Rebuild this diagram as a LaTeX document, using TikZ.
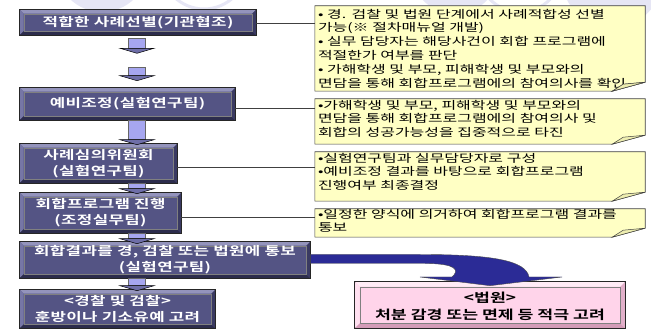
\documentclass[tikz,border=0pt]{standalone}
\usepackage{fontspec}
\newfontfamily\krb{Noto Sans CJK KR Bold}[FakeStretch=1.4,LetterSpace=3]
\newfontfamily\krr{Noto Sans CJK KR}[FakeStretch=1.45]
\newfontfamily\krp{Noto Sans CJK KR Bold}[FakeStretch=1.38]
\usetikzlibrary{calc}
\pgfdeclarelayer{bg}\pgfsetlayers{bg,main}
\definecolor{face}{HTML}{545484}
\definecolor{bvtop}{HTML}{9494BC}
\definecolor{bvleft}{HTML}{7676A6}
\definecolor{bvbot}{HTML}{2C2C4C}
\definecolor{bvright}{HTML}{3A3A62}
\definecolor{callfill}{HTML}{FFFFC4}
\definecolor{foldfill}{HTML}{EEEEB0}
\definecolor{pinkface}{HTML}{FFD4EA}
\definecolor{pinktop}{HTML}{FFECF6}
\definecolor{pinkleft}{HTML}{FFE0F0}
\definecolor{pinkbot}{HTML}{D49CB8}
\definecolor{pinkright}{HTML}{E2B0CA}
\definecolor{bigblue}{HTML}{2B2B96}
\definecolor{shaftc}{HTML}{A6A6F0}
\definecolor{headc}{HTML}{6E6EA8}
\definecolor{wm}{HTML}{E6E6F5}
\tikzset{
  lbox/.style={fill=face, draw=black!85, line width=0.6pt, text=white,
    font=\krb\fontsize{12}{16}\selectfont, align=center, inner sep=0pt},
  pbox/.style={fill=pinkface, draw=black!75, line width=0.6pt, text=black,
    font=\krp\fontsize{12.5}{17}\selectfont, align=center, inner sep=0pt},
  cbox/.style={inner sep=0pt},
  ctext/.style={text width=326pt, align=left, inner sep=0pt, anchor=north west,
    font=\krr\fontsize{11}{13.8}\selectfont},
  link/.style={draw=black!75, line width=0.7pt},
  callshape/.style={fill=callfill, draw=black!75, line width=0.6pt},
}
\newcommand\bevelit[6]{%
  \fill[#2] (#1.north west) -- (#1.north east) -- ($(#1.north east)+(-#6,#6)$) -- ($(#1.north west)+(#6,#6)$) -- cycle;
  \fill[#3] (#1.north west) -- ($(#1.north west)+(#6,#6)$) -- ($(#1.south west)+(#6,-#6)$) -- (#1.south west) -- cycle;
  \fill[#4] (#1.south west) -- (#1.south east) -- ($(#1.south east)+(-#6,-#6)$) -- ($(#1.south west)+(#6,-#6)$) -- cycle;
  \fill[#5] (#1.north east) -- (#1.south east) -- ($(#1.south east)+(-#6,-#6)$) -- ($(#1.north east)+(-#6,#6)$) -- cycle;
  \draw[black!85, line width=0.6pt] (#1.north west) rectangle (#1.south east);
  \draw[black!50, line width=0.3pt] ($(#1.north west)+(#6,#6)$) rectangle ($(#1.south east)+(-#6,-#6)$);
}
\newcommand\blockarr[2]{%
  \fill[shaftc, draw=black!60, line width=0.4pt] let \p1=(#1), \p2=(#2) in
    (\x1-8.5pt,\y1) rectangle (\x1+8.5pt,\y2+5pt);
  \filldraw[fill=headc, draw=black, line width=0.5pt] let \p1=(#1), \p2=(#2) in
    (\x1-17pt,\y2+5pt) -- (\x1+17pt,\y2+5pt) -- (\x2,\y2) -- cycle;
}
\newcommand\callout[1]{%
  \path[callshape] (#1.north west) -- (#1.north east) -- ($(#1.south east)+(0,-9)$)
    -- ($(#1.south east)+(-33,0)$) -- (#1.south west) -- cycle;
  \filldraw[fill=foldfill, draw=black!75, line width=0.5pt] ($(#1.south east)+(-33,0)$)
    .. controls ($(#1.south east)+(-28,-4)$) .. ($(#1.south east)+(-22,-7)$)
    -- ($(#1.south east)+(0,-9)$) -- cycle;
}
\begin{document}
\begin{tikzpicture}[x=1pt,y=-1pt]
\useasboundingbox (0,0) rectangle (651,331);
\begin{pgfonlayer}{bg}
  \fill[white] (0,0) rectangle (651,331);
  \fill[wm] (102,-34) circle (46);
  \draw[wm, line width=3pt] (204,-34) circle (43);
  \fill[wm] (455,-30) circle (44);
  \draw[wm, line width=3pt] (520,-30) circle (42);
  \fill[wm] (612,-22) circle (50);
\end{pgfonlayer}

% left boxes
\node[lbox, minimum width=236pt, minimum height=25pt] (b1) at (138,22.5) {};
\node[lbox, minimum width=215pt, minimum height=32pt] (b2) at (127.5,104) {};
\node[lbox, minimum width=157pt, minimum height=39pt] (b3) at (98.5,163.5) {};
\node[lbox, minimum width=161pt, minimum height=40pt] (b4) at (100.5,213) {};
\node[lbox, minimum width=290pt, minimum height=36pt] (b5) at (165,260) {};
\node[lbox, minimum width=195pt, minimum height=38pt] (b6) at (117.5,309) {};
\foreach \b in {b1,b2,b3,b4,b5,b6}{\bevelit{\b}{bvtop}{bvleft}{bvbot}{bvright}{4}}
\node[lbox, fill=none, draw=none] (l1) at (b1) {적합한 사례선별(기관협조)};
\node[lbox, fill=none, draw=none] (l2) at (b2) {예비조정(실험연구팀)};
\node[lbox, fill=none, draw=none] (l3) at (b3) {사례심의위원회\\(실험연구팀)};
\node[lbox, fill=none, draw=none] (l4) at (b4) {회합프로그램 진행\\(조정실무팀)};
\node[lbox, fill=none, draw=none] (l5) at (b5) {회합결과를 경, 검찰 또는 법원에 통보\\(실험연구팀)};
\node[lbox, fill=none, draw=none] (l6) at (b6) {<경찰 및 검찰>\\훈방이나 기소유예 고려};

% callout boxes
\node[cbox, minimum width=330pt, minimum height=85pt] (c1) at (480,48.5) {};
\node[cbox, minimum width=330pt, minimum height=45pt] (c2) at (480,121.5) {};
\node[cbox, minimum width=330pt, minimum height=49pt] (c3) at (480,176.5) {};
\node[cbox, minimum width=330pt, minimum height=28pt] (c4) at (480,223) {};
\begin{pgfonlayer}{bg}
  \callout{c1}\callout{c2}\callout{c3}\callout{c4}
\end{pgfonlayer}
\node[ctext] (t1) at ($(c1.north west)+(3,3)$) {• 경. 검찰 및 법원 단계에서 사례적합성 선별\\가능(※ 절차매뉴얼 개발)\\• 실무 담당자는 해당사건이 회합 프로그램에\\적절한가 여부를 판단\\• 가해학생 및 부모, 피해학생 및 부모와의\\면담을 통해 회합프로그램에의 참여의사를 확인};
\node[ctext] (t2) at ($(c2.north west)+(3,1)$) {•가해학생 및 부모, 피해학생 및 부모와의\\면담을 통해 회합프로그램에의 참여의사 및\\회합의 성공가능성을 집중적으로 타진};
\node[ctext] (t3) at ($(c3.north west)+(3,1)$) {•실험연구팀과 실무담당자로 구성\\•예비조정 결과를 바탕으로 회합프로그램\\진행여부 최종결정};
\node[ctext] (t4) at ($(c4.north west)+(3,0)$) {•일정한 양식에 의거하여 회합프로그램 결과를\\통보};
\filldraw[fill=foldfill, draw=black!75, line width=0.5pt] ($(c1.south east)+(-33,0)$)
    .. controls ($(c1.south east)+(-28,-4)$) .. ($(c1.south east)+(-22,-7)$)
    -- ($(c1.south east)+(0,-9)$) -- cycle;

% links
\draw[link] ([yshift=-0.5pt]b1.east) -- ([yshift=-0.5pt]b1.east -| c1.west);
\draw[link] ([yshift=-4pt]b2.east) -- ([yshift=-4pt]b2.east -| c2.west);
\draw[link] ([yshift=-4pt]b3.east) -- ([yshift=-4pt]b3.east -| c3.west);
\draw[link] ([yshift=-4pt]b4.east) -- ([yshift=-4pt]b4.east -| c4.west);

% small block arrows
\coordinate (ax) at (137,0);
\coordinate (a1s) at ([yshift=-3pt]b1.south -| ax);
\coordinate (a1e) at ([yshift=-18pt]b1.south -| ax);
\coordinate (a2s) at ([yshift=20pt]b2.north -| ax);
\coordinate (a2e) at ([yshift=7pt]b2.north -| ax);
\blockarr{a1s}{a1e}
\blockarr{a2s}{a2e}
\blockarr{b2.south -| ax}{[yshift=-1pt]b3.north -| ax}
\blockarr{b3.south -| ax}{[yshift=-1pt]b4.north -| ax}
\blockarr{b4.south -| ax}{[yshift=-2pt]b5.north -| ax}
\blockarr{b5.south -| ax}{[yshift=-1pt]b6.north -| ax}

% pink box
\node[pbox, minimum width=270pt, minimum height=46pt] (p) at (490,305) {};
\bevelit{p}{pinktop}{pinkleft}{pinkbot}{pinkright}{5}
\node[pbox, fill=none, draw=none] (pt) at ([yshift=-1pt]p.center) {<법원>\\처분 감경 또는 면제 등 적극 고려};

% big curved arrow
\fill[bigblue, draw=black!70, line width=0.4pt]
  ([yshift=5.5pt]b5.east) -- (420,254.5)
  .. controls (490,254.5) and (526,260) .. (529,277)
  -- (562,277) -- ([yshift=-4pt]p.north) -- (420,277) -- (452,277)
  .. controls (460,270) and (456,263.5) .. (425,263.5)
  -- ([yshift=-3.5pt]b5.east) -- cycle;
\end{tikzpicture}
\end{document}
